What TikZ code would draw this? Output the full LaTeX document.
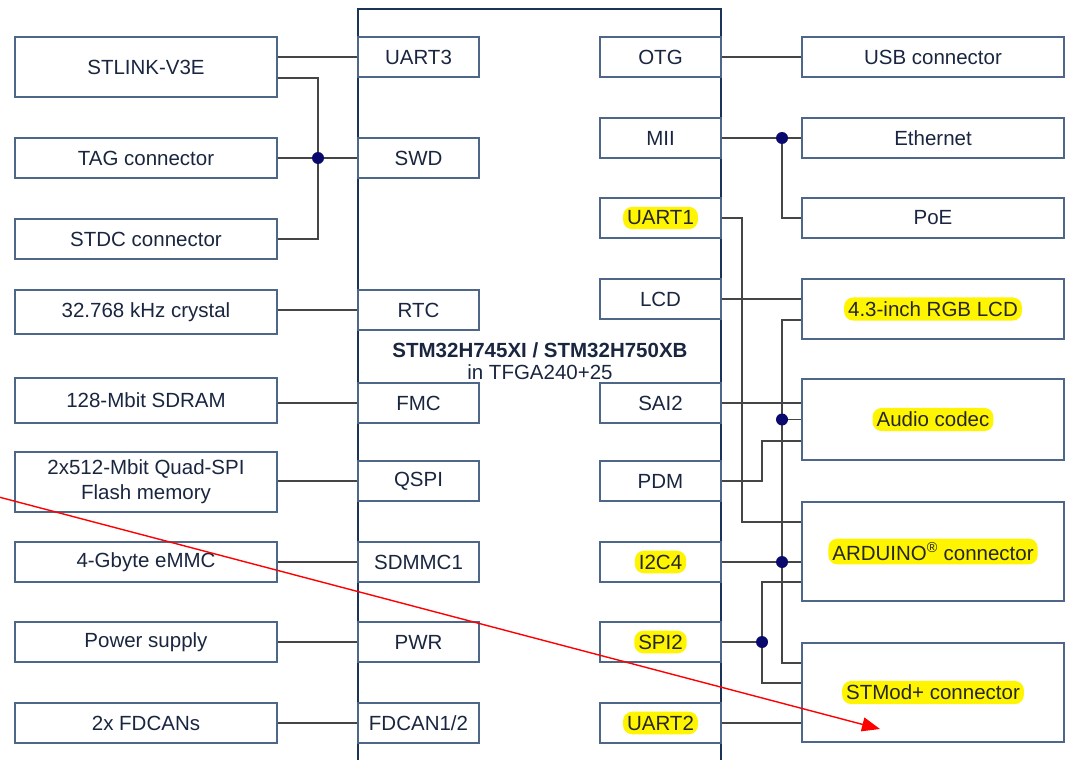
\documentclass[tikz,border=0pt]{standalone}
\usepackage{fontspec}
\setmainfont{Liberation Sans}
\usetikzlibrary{arrows.meta}
\definecolor{txt}{HTML}{1A2640}
\definecolor{bord}{HTML}{4E6688}
\definecolor{chipc}{HTML}{1C3358}
\definecolor{wire}{HTML}{454545}
\definecolor{dotc}{HTML}{0A0A6E}
\definecolor{hly}{HTML}{FFF500}
\begin{document}
\begin{tikzpicture}[x=1pt,y=-1pt,
  font=\fontsize{20.5}{24}\selectfont, text=txt,
  blk/.style={draw=bord, line width=1.4pt, fill=white, inner sep=0pt, minimum width=262pt, align=center},
  pin/.style={draw=bord, line width=1.4pt, fill=white, inner sep=0pt, minimum width=121pt, minimum height=40pt},
  hl/.style={fill=hly, rounded corners=9pt, inner xsep=4pt, inner ysep=4pt, text=black!85},
  wr/.style={draw=wire, line width=1.2pt},
  jdot/.style={circle, fill=dotc, inner sep=0pt, minimum size=12pt}]
\useasboundingbox (0,0) rectangle (1066,760);
% chip
\draw[chipc, line width=2pt] (358,770) -- (358,9) -- (721,9) -- (721,770);
\node[font=\fontsize{20.5}{24}\selectfont\bfseries] (chipname) at (540,350) {STM32H745XI / STM32H750XB};
\node (chippkg) at (540,372) {in TFGA240+25};
% left blocks
\node[blk, minimum height=60pt] (stlink) at (146,67) {STLINK-V3E};
\node[blk, minimum height=40pt] (tag) at (146,158) {TAG connector};
\node[blk, minimum height=40pt] (stdc) at (146,239) {STDC connector};
\node[blk, minimum height=44pt] (xtal) at (146,312) {32.768 kHz crystal};
\node[blk, minimum height=45pt] (sdram) at (146,400.5) {128-Mbit SDRAM};
\node[blk, minimum height=60pt, font=\fontsize{20.5}{25}\selectfont] (flash) at (146,482) {2x512-Mbit Quad-SPI\\Flash memory};
\node[blk, minimum height=40pt] (emmc) at (146,562) {4-Gbyte eMMC};
\node[blk, minimum height=40pt] (power) at (146,642) {Power supply};
\node[blk, minimum height=40pt] (can) at (146,723) {2x FDCANs};
% left pins
\node[pin] (uart3) at (418.5,57) {UART3};
\node[pin] (swd) at (418.5,158) {SWD};
\node[pin] (rtc) at (418.5,310) {RTC};
\node[pin] (fmc) at (418.5,403) {FMC};
\node[pin] (qspi) at (418.5,481) {QSPI};
\node[pin] (sdmmc) at (418.5,562) {SDMMC1};
\node[pin] (pwr) at (418.5,642) {PWR};
\node[pin] (fdcan) at (418.5,723) {FDCAN1/2};
% right pins
\node[pin] (otg) at (660.5,57) {OTG};
\node[pin] (mii) at (660.5,138) {MII};
\node[pin] (uart1) at (660.5,218) {};
\node[hl] (uart1t) at (uart1) {UART1};
\node[pin] (lcd) at (660.5,299) {LCD};
\node[pin] (sai2) at (660.5,403) {SAI2};
\node[pin] (pdm) at (660.5,481) {PDM};
\node[pin] (i2c4) at (660.5,562) {};
\node[hl] (i2c4t) at (i2c4) {I2C4};
\node[pin] (spi2) at (660.5,642) {};
\node[hl] (spi2t) at (spi2) {SPI2};
\node[pin] (uart2) at (660.5,723) {};
\node[hl] (uart2t) at (uart2) {UART2};
% right blocks
\node[blk, minimum height=40pt] (usb) at (933,57) {USB connector};
\node[blk, minimum height=40pt] (eth) at (933,138) {Ethernet};
\node[blk, minimum height=40pt] (poe) at (933,218) {PoE};
\node[blk, minimum height=60pt] (lcdbox) at (933,309) {};
\node[hl] (lcdboxt) at (lcdbox) {4.3-inch RGB LCD};
\node[blk, minimum height=81pt] (audio) at (933,419.5) {};
\node[hl] (audiot) at (audio) {Audio codec};
\node[blk, minimum height=99pt] (ard) at (933,551.5) {};
\node[hl] (ardt) at (ard) {ARDUINO\textsuperscript{®} connector};
\node[blk, minimum height=99pt] (stmod) at (933,692.5) {};
\node[hl] (stmodt) at (stmod) {STMod+ connector};
% bus coordinates
\coordinate (bxL) at (318,0);
\coordinate (bxA) at (742,0);
\coordinate (bxC) at (762,0);
\coordinate (bxB) at (782,0);
% left connectors
\draw[wr] (stlink.east |- uart3.west) -- (uart3.west);
\coordinate (stl2) at ([yshift=-11pt]stlink.east);
\draw[wr] (stl2) -| (bxL |- stdc.east) -- (stdc.east);
\draw[wr] (tag.east) -- (swd.west);
\draw[wr] (xtal.east |- rtc.west) -- (rtc.west);
\draw[wr] (sdram.east |- fmc.west) -- (fmc.west);
\draw[wr] (flash.east |- qspi.west) -- (qspi.west);
\draw[wr] (emmc.east) -- (sdmmc.west);
\draw[wr] (power.east) -- (pwr.west);
\draw[wr] (can.east) -- (fdcan.west);
\node[jdot] (jl) at (bxL |- tag.east) {};
% right connectors
\draw[wr] (otg.east) -- (usb.west);
\draw[wr] (mii.east) -- (eth.west);
\draw[wr] (bxB |- mii.east) |- (poe.west);
\node[jdot] (jm) at (bxB |- mii.east) {};
\coordinate (ardU) at ([yshift=29.5pt]ard.west);
\draw[wr] (uart1.east) -| (bxA |- ardU) -- (ardU);
\draw[wr] (lcd.east) -- (lcd.east -| lcdbox.west);
\coordinate (lcdL) at ([yshift=-11pt]lcdbox.west);
\coordinate (stmodT) at ([yshift=29.5pt]stmod.west);
\draw[wr] (lcdL) -| (bxB |- stmodT) -- (stmodT);
\draw[wr] (sai2.east) -- (sai2.east -| audio.west);
\draw[wr] (bxB |- audio.west) -- (audio.west);
\coordinate (audioP) at ([yshift=-21.5pt]audio.west);
\draw[wr] (pdm.east) -| (bxC |- audioP) -- (audioP);
\draw[wr] (i2c4.east) -- (i2c4.east -| ard.west);
\coordinate (ardS) at ([yshift=-30.5pt]ard.west);
\coordinate (stmodS) at ([yshift=9.5pt]stmod.west);
\draw[wr] (ardS) -| (bxC |- stmodS) -- (stmodS);
\draw[wr] (spi2.east) -- (bxC |- spi2.east);
\draw[wr] (uart2.east) -- (uart2.east -| stmod.west);
\node[jdot] (ja) at (bxB |- audio.west) {};
\node[jdot] (ji) at (bxB |- i2c4.east) {};
\node[jdot] (js) at (bxC |- spi2.east) {};
% red arrow
\coordinate (rs) at (-5,496);
\coordinate (re) at (880,729);
\draw[red, line width=1.4pt, -{Triangle[length=18pt,width=14pt]}] (rs) -- (re);
\end{tikzpicture}
\end{document}
